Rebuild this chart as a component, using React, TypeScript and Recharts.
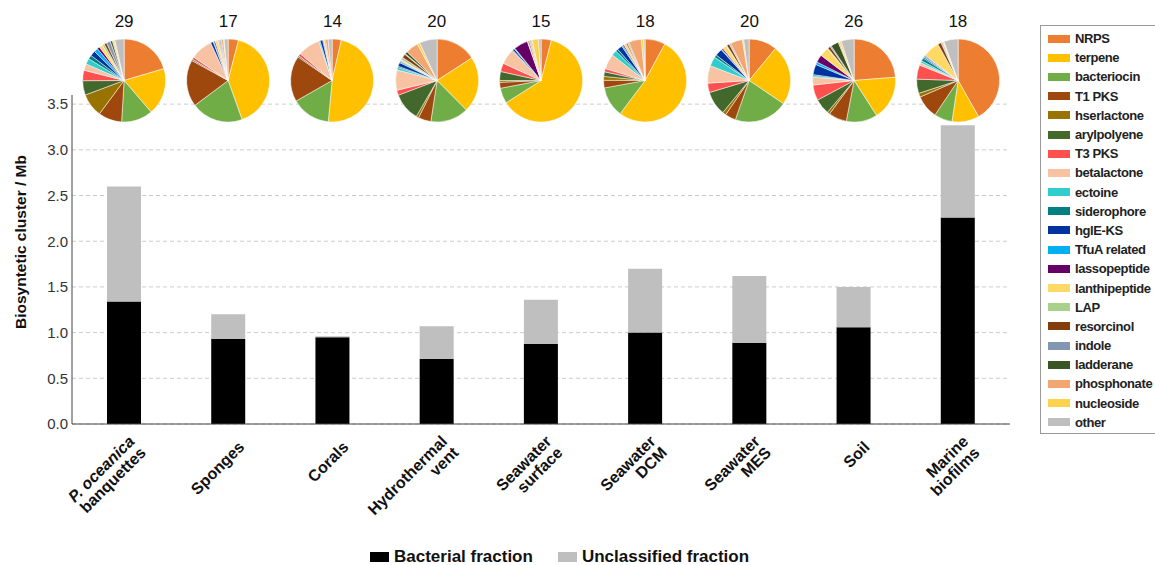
import React from 'react';
import { Bar, BarChart, CartesianGrid, Cell, Label, Pie, PieChart, XAxis, YAxis } from 'recharts';

const FONT = '"Liberation Sans", Arial, sans-serif';

// sampling sites (x axis), two-line names split on \n
const habitats = [
  'P. oceanica\nbanquettes',
  'Sponges',
  'Corals',
  'Hydrothermal\nvent',
  'Seawater\nsurface',
  'Seawater\nDCM',
  'Seawater\nMES',
  'Soil',
  'Marine\nbiofilms',
];

// BGC density, Mb^-1
const bacterial = [1.34, 0.93, 0.95, 0.71, 0.875, 1.0, 0.89, 1.06, 2.26];
const unclassified = [1.26, 0.27, 0.01, 0.36, 0.485, 0.7, 0.73, 0.44, 1.01];

const yTicks = [0, 0.5, 1, 1.5, 2, 2.5, 3, 3.5];

// number of BGC types found per site
const typeCounts = [29, 17, 14, 20, 15, 18, 20, 26, 18];

const bgcTypes = [
  'NRPS', 'terpene', 'bacteriocin', 'T1 PKS', 'hserlactone', 'arylpolyene', 'T3 PKS',
  'betalactone', 'ectoine', 'siderophore', 'hglE-KS', 'TfuA related', 'lassopeptide',
  'lanthipeptide', 'LAP', 'resorcinol', 'indole', 'ladderane', 'phosphonate', 'nucleoside', 'other',
];

const typeColors = [
  '#ED7D31', '#FFC000', '#70AD47', '#9E480E', '#997300', '#43682B', '#FF5050',
  '#F7C3A2', '#33CCCC', '#008080', '#0032A0', '#00B0F0', '#660066',
  '#FFD966', '#A9D18E', '#843C0C', '#8497B0', '#375623', '#F4A672', '#FFD24D', '#BFBFBF',
];

// share of each BGC type (%), same order as bgcTypes
const pOceanicaShare = [20, 18, 12, 9, 9, 5.5, 4, 2.5, 2.2, 1.5, 2, 1.5, 1, 1.3, 0.8, 1, 1.5, 0.8, 0.5, 0.5, 3.5];
const spongesShare = [4, 40, 20, 18, 0, 0.5, 1, 8.5, 0, 0, 1, 0.3, 0.5, 1, 0.3, 0.3, 0.5, 0.3, 0.8, 0.3, 1.5];
const coralsShare = [3.5, 47, 15, 17.5, 0, 0.5, 1, 8.5, 0.5, 0, 1, 0, 0.3, 0.5, 0, 0.3, 0, 0, 1, 0, 1.5];
const ventShare = [16, 22, 15, 5, 1, 11, 2, 8, 1, 0.5, 1.5, 0.5, 0.3, 0.5, 1, 1.5, 0.3, 1, 5, 1, 7];
const surfaceShare = [4, 62, 6, 2.3, 0.7, 3.5, 3.3, 6, 0, 0.3, 0.7, 0.3, 5.5, 0.3, 0, 0.5, 0.3, 0.3, 0.5, 2.5, 1];
const dcmShare = [8, 53, 12, 3, 1.5, 1.8, 1.3, 6, 2, 1, 2, 0.5, 0.5, 1, 0, 0.5, 0.3, 0.3, 5, 1, 0.5];
const mesShare = [10.5, 22.5, 20, 4, 1.3, 9, 3.5, 6.5, 3.5, 1, 2.7, 0.3, 0.5, 1.5, 0.3, 1, 0.3, 0.3, 4.5, 0.5, 2];
const soilShare = [23.5, 17, 12, 7, 1, 6, 6, 3, 0.5, 0.5, 4, 1, 3, 3.5, 0.3, 1, 0.5, 3, 0.5, 0.7, 5];
const biofilmShare = [41.5, 10.5, 7, 9, 1.5, 5.5, 5.5, 1, 0.8, 1.2, 0.5, 0.5, 0.3, 6.5, 0, 1.3, 0.3, 0.3, 0.3, 0.3, 5.5];

const siteShares = [
  pOceanicaShare, spongesShare, coralsShare, ventShare, surfaceShare,
  dcmShare, mesShare, soilShare, biofilmShare,
];

const barData = habitats.map((habitat, i) => ({
  habitat,
  bacterial: bacterial[i],
  unclassified: unclassified[i],
}));

const PLOT_LEFT = 72;
const PLOT_RIGHT = 1010;
const CHART_W = 1030;

const HabitatTick = (props: any) => {
  const { x, y, payload } = props;
  const lines = String(payload.value).split('\n');
  const lh = 16;
  const first = -((lines.length - 1) * lh) / 2;
  return (
    <g transform={`translate(${x + 17},${y + 16})`}>
      <text
        transform="rotate(-45)"
        textAnchor="end"
        fontSize={16}
        fontWeight="bold"
        fontFamily={FONT}
        fill="#111"
      >
        {lines.map((line, i) => (
          <tspan
            key={i}
            x={0}
            dy={i === 0 ? first : lh}
            fontStyle={line === 'P. oceanica' ? 'italic' : 'normal'}
          >
            {line}
          </tspan>
        ))}
      </text>
    </g>
  );
};

const FractionLegend = () => (
  <div
    style={{
      position: 'absolute',
      left: 370,
      top: 548,
      display: 'flex',
      fontFamily: FONT,
      fontWeight: 'bold',
      fontSize: 17,
      lineHeight: '18px',
      color: '#111',
    }}
  >
    {[
      ['Bacterial fraction', '#000'],
      ['Unclassified fraction', '#BFBFBF'],
    ].map(([name, color]) => (
      <div key={name} style={{ display: 'flex', alignItems: 'center', marginRight: 25 }}>
        <span style={{ width: 19, height: 10, background: color, marginRight: 5 }} />
        {name}
      </div>
    ))}
  </div>
);

const TypeLegend = () => (
  <div
    style={{
      position: 'absolute',
      left: 1040,
      top: 25,
      width: 140,
      height: 409,
      border: '1px solid #9a9a9a',
      boxSizing: 'border-box',
      paddingTop: 3,
      fontFamily: FONT,
      fontWeight: 'bold',
      fontSize: 13,
      letterSpacing: -0.4,
      color: '#222',
    }}
  >
    {bgcTypes.map((t, i) => (
      <div key={t} style={{ height: 19.2, display: 'flex', alignItems: 'center', whiteSpace: 'nowrap' }}>
        <span style={{ width: 22, height: 8, background: typeColors[i], marginLeft: 7, marginRight: 5, flex: 'none' }} />
        {t}
      </div>
    ))}
  </div>
);

export default function App() {
  const band = (PLOT_RIGHT - PLOT_LEFT) / habitats.length;
  return (
    <div style={{ position: 'absolute', left: 0, top: 0, width: 1155, height: 565, overflow: 'hidden', background: '#fff' }}>
      <BarChart
        width={CHART_W}
        height={565}
        data={barData}
        margin={{ top: 95, right: CHART_W - PLOT_RIGHT, bottom: 41, left: 42 }}
        barSize={34}
      >
        <CartesianGrid vertical={false} horizontalValues={yTicks} stroke="#cccccc" strokeDasharray="4 3" />
        <XAxis
          dataKey="habitat"
          height={100}
          interval={0}
          tickLine={false}
          axisLine={{ stroke: '#444' }}
          tick={<HabitatTick />}
        />
        <YAxis
          width={30}
          domain={[0, 3.6]}
          ticks={yTicks}
          tickFormatter={(v: number) => v.toFixed(1)}
          tickLine={false}
          tickSize={3}
          tickMargin={1}
          axisLine={{ stroke: '#444' }}
          tick={{ fontSize: 15, fill: '#333', fontFamily: FONT }}
        >
          <Label
            content={() => (
              <text
                x={22}
                y={242}
                transform="rotate(-90, 22, 242)"
                textAnchor="middle"
                dominantBaseline="middle"
                fontSize={15.5}
                fontWeight="bold"
                fontFamily={FONT}
                fill="#111"
              >
                Biosyntetic cluster / Mb
              </text>
            )}
          />
        </YAxis>
        <Bar dataKey="bacterial" stackId="a" fill="#000" isAnimationActive={false} />
        <Bar dataKey="unclassified" stackId="a" fill="#BFBFBF" isAnimationActive={false} />
      </BarChart>

      {siteShares.map((shares, i) => {
        const slices = shares
          .map((value, k) => ({ name: bgcTypes[k], value, color: typeColors[k] }))
          .filter((s) => s.value > 0);
        return (
          <div
            key={habitats[i]}
            style={{ position: 'absolute', left: PLOT_LEFT + i * band, top: 0, width: band, height: 125 }}
          >
            <div
              style={{
                position: 'absolute',
                top: 11,
                width: '100%',
                textAlign: 'center',
                fontFamily: FONT,
                fontSize: 17,
                lineHeight: '22px',
                color: '#111',
              }}
            >
              {typeCounts[i]}
            </div>
            <div style={{ position: 'absolute', top: 30, left: 0 }}>
              <PieChart width={band} height={92}>
                <Pie
                  data={slices}
                  dataKey="value"
                  nameKey="name"
                  cx="50%"
                  cy={45.5}
                  outerRadius={41.5}
                  startAngle={90}
                  endAngle={-270}
                  stroke="#fff"
                  strokeWidth={0.5}
                  isAnimationActive={false}
                >
                  {slices.map((s) => (
                    <Cell key={s.name} fill={s.color} />
                  ))}
                </Pie>
              </PieChart>
            </div>
          </div>
        );
      })}

      <FractionLegend />
      <TypeLegend />
    </div>
  );
}
